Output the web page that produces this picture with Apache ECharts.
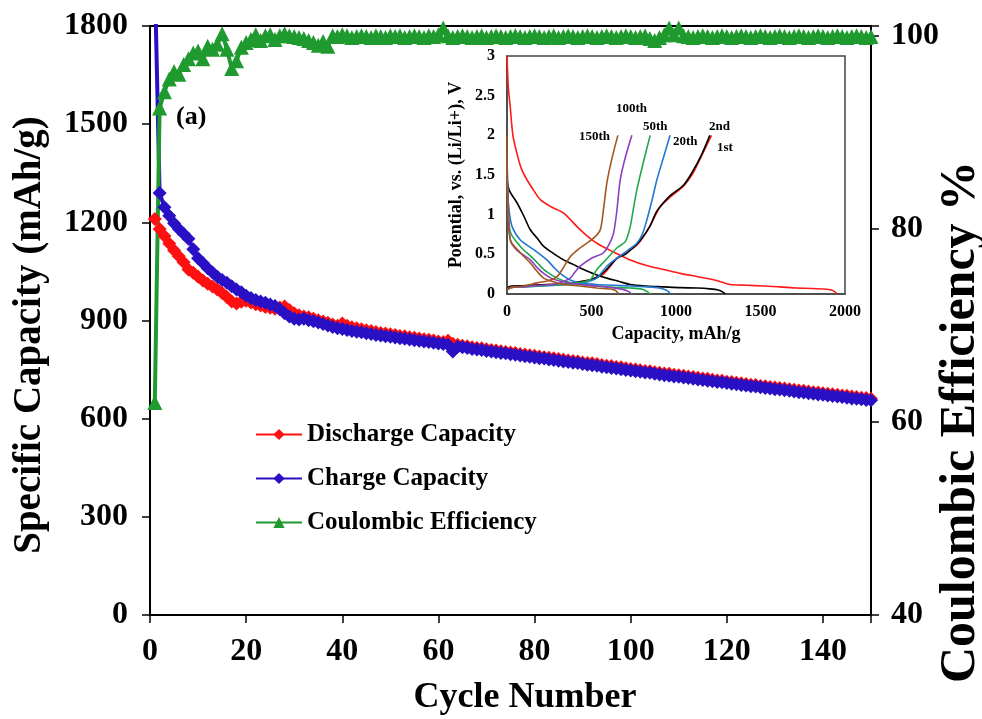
<!DOCTYPE html>
<html lang="en">
<head>
    <meta charset="UTF-8">
    <title>Cycling performance</title>
    <style>
        * { margin: 0; padding: 0; box-sizing: border-box; }
        body { background: #fff; }
        #chart { width: 982px; height: 719px; }
    </style>
</head>
<body>
    <div id="chart"></div>

    <script src="https://cdn.jsdelivr.net/npm/echarts@6/dist/echarts.min.js"></script>
    <script>
        // main plot: capacity (mAh/g) and coulombic efficiency (%) per cycle, cycles 1..150
        const dischargeCap = [
            1210, 1180, 1158, 1135, 1115, 1096, 1078, 1056, 1046, 1034,
            1022, 1012, 1004, 995, 984, 972, 958, 952, 957, 960,
            955, 950, 946, 941, 939, 936, 940, 943, 932, 922,
            916, 912, 910, 905, 901, 897, 893, 888, 884, 891,
            884, 879, 876, 873, 870, 868, 865, 862, 860, 858,
            856, 853, 852, 849, 847, 845, 843, 841, 839, 836,
            834, 838, 829, 826, 823, 821, 818, 816, 815, 812,
            810, 808, 806, 804, 802, 801, 798, 796, 794, 792,
            790, 788, 786, 785, 782, 780, 778, 776, 775, 772,
            770, 769, 767, 764, 762, 761, 758, 757, 754, 752,
            750, 748, 746, 745, 742, 740, 738, 737, 734, 733,
            731, 729, 727, 725, 723, 722, 719, 717, 716, 713,
            712, 710, 708, 706, 704, 703, 700, 699, 697, 695,
            694, 692, 690, 688, 686, 685, 683, 681, 680, 678,
            676, 675, 673, 671, 670, 668, 666, 664, 663, 661
        ];
        const chargeCap = [
            1950, 1290, 1246, 1220, 1197, 1180, 1165, 1150, 1118, 1090,
            1076, 1060, 1047, 1034, 1024, 1015, 1005, 995, 986, 976,
            969, 963, 958, 954, 949, 944, 934, 922, 912, 905,
            903, 905, 901, 898, 894, 889, 885, 880, 876, 874,
            871, 868, 866, 864, 861, 859, 856, 854, 852, 850,
            848, 846, 844, 842, 840, 838, 836, 834, 832, 830,
            828, 826, 805, 820, 818, 816, 813, 811, 810, 807,
            805, 803, 801, 800, 797, 795, 793, 791, 789, 787,
            785, 784, 781, 779, 777, 775, 773, 771, 770, 767,
            765, 763, 762, 759, 757, 755, 753, 751, 749, 747,
            745, 743, 741, 740, 737, 735, 733, 731, 729, 728,
            726, 724, 722, 720, 718, 716, 714, 712, 711, 709,
            707, 705, 703, 701, 699, 698, 696, 694, 692, 690,
            689, 687, 685, 683, 681, 680, 678, 676, 674, 673,
            671, 669, 668, 666, 664, 662, 661, 659, 657, 656
        ];
        const coulombicEff = [
            62.0, 92.5, 94.2, 95.5, 96.3, 96.0, 97.0, 97.6, 98.2, 98.4,
            97.6, 98.9, 98.6, 99.1, 100.2, 98.6, 96.6, 97.4, 98.8, 99.3,
            99.6, 100.1, 99.5, 100.0, 100.1, 99.6, 100.0, 100.2, 100.0, 99.9,
            99.8, 99.7, 99.5, 99.3, 99.0, 99.4, 98.9, 100.0, 99.9, 100.1,
            100.0, 99.8, 99.9, 100.0, 99.9, 99.8, 100.0, 99.9, 99.8, 100.0,
            99.9, 100.0, 99.8, 99.9, 100.0, 99.9, 99.8, 100.0, 99.9, 100.1,
            100.8, 100.0, 99.8, 99.9, 100.0, 99.9, 99.8, 99.9, 100.0, 99.8,
            99.9, 100.0, 99.9, 99.8, 99.9, 100.0, 99.9, 99.8, 99.9, 100.0,
            99.9, 99.8, 99.9, 100.0, 99.8, 99.9, 100.0, 99.9, 99.8, 99.9,
            100.0, 99.9, 99.8, 99.9, 100.0, 99.9, 99.8, 99.9, 100.0, 99.9,
            99.8, 99.9, 100.0, 99.7, 99.5, 99.8, 100.1, 100.8, 100.1, 100.8,
            100.0, 99.9, 99.8, 99.9, 100.0, 99.9, 99.8, 99.9, 100.0, 99.9,
            99.8, 99.9, 100.0, 99.9, 99.8, 99.9, 100.0, 99.9, 99.8, 99.9,
            100.0, 99.9, 99.8, 99.9, 100.0, 99.9, 99.8, 99.9, 100.0, 99.9,
            99.8, 99.9, 100.0, 99.9, 99.8, 99.9, 100.0, 99.9, 99.8, 99.9
        ];

        // inset: [capacity mAh/g, potential V]
        const dis1st = [[0,3.0],[8,2.6],[19,2.36],[35,2.0],[59,1.77],[85,1.58],[118,1.44],[160,1.3],[197,1.19],[260,1.1],[335,1.02],[414,0.85],[470,0.74],[532,0.64],[630,0.53],[729,0.43],[826,0.36],[926,0.31],[1025,0.26],[1123,0.22],[1221,0.18],[1270,0.15],[1320,0.12],[1420,0.11],[1517,0.1],[1614,0.09],[1714,0.075],[1800,0.07],[1872,0.063],[1920,0.05],[1945,0.02],[1950,0]];
        const chg1st = [[0,0.05],[20,0.09],[60,0.1],[150,0.11],[250,0.12],[350,0.13],[450,0.16],[520,0.2],[571,0.25],[611,0.35],[650,0.45],[700,0.52],[760,0.6],[800,0.7],[847,0.86],[880,1.0],[906,1.1],[965,1.22],[1044,1.36],[1100,1.52],[1160,1.78],[1210,2.0]];
        const dis2nd = [[0,1.44],[15,1.3],[59,1.15],[100,0.98],[138,0.81],[180,0.7],[217,0.6],[276,0.51],[335,0.43],[394,0.37],[453,0.31],[520,0.25],[591,0.2],[660,0.16],[729,0.12],[826,0.1],[926,0.09],[1025,0.08],[1123,0.075],[1200,0.065],[1250,0.05],[1280,0.02],[1290,0]];
        const chg2nd = [[0,0.05],[10,0.09],[40,0.1],[150,0.11],[250,0.12],[340,0.12],[420,0.15],[493,0.18],[540,0.22],[575,0.28],[611,0.36],[650,0.45],[700,0.5],[740,0.57],[790,0.68],[847,0.86],[880,1.02],[906,1.1],[965,1.24],[1044,1.37],[1100,1.55],[1150,1.75],[1200,2.0]];
        const dis20th = [[0,1.45],[10,1.1],[30,0.85],[79,0.68],[158,0.56],[236,0.43],[280,0.33],[315,0.26],[370,0.18],[433,0.14],[530,0.12],[630,0.11],[729,0.1],[826,0.09],[900,0.075],[940,0.05],[960,0.02],[965,0]];
        const chg20th = [[0,0.05],[20,0.08],[60,0.09],[200,0.1],[350,0.12],[450,0.14],[500,0.17],[532,0.2],[560,0.27],[591,0.35],[630,0.42],[670,0.48],[720,0.56],[768,0.64],[800,0.75],[827,0.93],[860,1.2],[887,1.44],[930,1.75],[965,2.0]];
        const dis50th = [[0,1.75],[8,1.1],[20,0.78],[79,0.6],[138,0.48],[177,0.4],[217,0.31],[256,0.25],[296,0.2],[360,0.15],[433,0.12],[530,0.1],[630,0.085],[729,0.075],[800,0.06],[830,0.03],[847,0]];
        const chg50th = [[0,0.05],[20,0.08],[100,0.09],[250,0.11],[380,0.13],[450,0.15],[493,0.18],[515,0.25],[532,0.31],[580,0.42],[650,0.58],[700,0.66],[729,0.85],[750,1.1],[768,1.31],[800,1.6],[847,2.0]];
        const dis100th = [[0,1.75],[6,1.2],[20,0.68],[60,0.55],[138,0.43],[180,0.33],[217,0.26],[260,0.2],[300,0.17],[400,0.13],[532,0.1],[620,0.08],[690,0.055],[720,0.03],[739,0]];
        const chg100th = [[0,0.05],[20,0.08],[100,0.09],[200,0.11],[300,0.13],[374,0.2],[400,0.27],[433,0.35],[500,0.45],[571,0.52],[610,0.65],[631,0.77],[650,1.05],[670,1.44],[700,1.72],[739,2.0]];
        const dis150th = [[0,2.0],[4,1.2],[20,0.68],[79,0.52],[138,0.39],[180,0.28],[217,0.2],[280,0.15],[335,0.12],[430,0.1],[532,0.075],[631,0.055],[650,0.03],[660,0]];
        const chg150th = [[0,0.05],[20,0.08],[100,0.1],[177,0.14],[250,0.17],[296,0.22],[330,0.32],[374,0.47],[420,0.56],[473,0.64],[520,0.72],[552,0.81],[570,1.05],[591,1.4],[620,1.7],[656,2.0]];

        const FONT = "'Liberation Serif', 'Times New Roman', serif";
        const withCycle = arr => arr.map((v, i) => [i + 1, v]);
        const plain = v => String(v);
        const every20 = v => (v % 20 === 0 ? String(v) : '');

        const insetCurves = [
            { color: '#ff1a1a', data: [dis1st, chg1st] },
            { color: '#000000', data: [dis2nd, chg2nd] },
            { color: '#1f78d1', data: [dis20th, chg20th] },
            { color: '#21a84a', data: [dis50th, chg50th] },
            { color: '#8b3fc2', data: [dis100th, chg100th] },
            { color: '#a3561f', data: [dis150th, chg150th] }
        ];
        const insetSeries = [];
        insetCurves.forEach(c => {
            c.data.forEach(d => {
                insetSeries.push({
                    type: 'line', xAxisIndex: 1, yAxisIndex: 2,
                    data: d, showSymbol: false, smooth: 0.3, silent: true,
                    lineStyle: { color: c.color, width: 1.6 }, z: 5
                });
            });
        });

        const bold = size => ({ fontFamily: FONT, fontWeight: 'bold', fontSize: size, color: '#000' });
        const blackLine = { lineStyle: { color: '#000', width: 2 } };
        const outTick = { length: 8, lineStyle: { color: '#000', width: 1.5 } };
        const cycleLabel = (text, left, top) => ({
            type: 'text', left: left, top: top,
            style: { text: text, font: "bold 13px 'Liberation Serif', serif", fill: '#000' }
        });
        const title = (text, x, y, size, rot) => ({
            type: 'text', x: x, y: y, rotation: rot,
            style: { text: text, font: 'bold ' + size + "px 'Liberation Serif', serif",
                     fill: '#000', align: 'center', verticalAlign: 'middle' }
        });

        const chart = echarts.init(document.getElementById('chart'));
        chart.setOption({
            animation: false,
            grid: [
                { left: 150, right: 111, top: 26, bottom: 104, outerBoundsMode: 'none',
                  show: true, borderColor: '#000', borderWidth: 2 },
                { left: 507, top: 56, width: 338, height: 238, outerBoundsMode: 'none',
                  show: true, borderColor: '#444', borderWidth: 1.5, backgroundColor: '#fff' }
            ],
            legend: {
                data: ['Discharge Capacity', 'Charge Capacity', 'Coulombic Efficiency'],
                orient: 'vertical', left: 250, top: 417,
                itemWidth: 46, itemHeight: 14, itemGap: 19,
                textStyle: bold(25)
            },
            xAxis: [
                {
                    gridIndex: 0, type: 'value', min: 0, max: 150, interval: 20,
                    axisLine: blackLine, axisTick: outTick,
                    axisLabel: Object.assign(bold(32), { margin: 21, formatter: every20 }),
                    splitLine: { show: false }
                },
                {
                    gridIndex: 1, type: 'value', min: 0, max: 2000, interval: 500,
                    axisLine: { lineStyle: { color: '#444', width: 1.5 } },
                    axisTick: { show: false },
                    axisLabel: Object.assign(bold(16), { margin: 10, formatter: plain }),
                    splitLine: { show: false },
                    name: 'Capacity, mAh/g', nameLocation: 'middle', nameGap: 31,
                    nameTextStyle: bold(18)
                }
            ],
            yAxis: [
                {
                    gridIndex: 0, type: 'value', min: 0, max: 1800, interval: 300,
                    axisLine: blackLine, axisTick: outTick,
                    axisLabel: Object.assign(bold(32), { margin: 22, formatter: plain }),
                    splitLine: { show: false }
                },
                {
                    gridIndex: 0, type: 'value', position: 'right', min: 40, max: 101, interval: 20,
                    axisLine: blackLine, axisTick: outTick,
                    axisLabel: Object.assign(bold(32), { margin: 20, formatter: every20 }),
                    splitLine: { show: false }
                },
                {
                    gridIndex: 1, type: 'value', min: 0, max: 3, interval: 0.5,
                    axisLine: { lineStyle: { color: '#444', width: 1.5 } },
                    axisTick: { show: false },
                    axisLabel: Object.assign(bold(16), { margin: 12, formatter: plain }),
                    splitLine: { show: false },
                    name: 'Potential, vs. (Li/Li+), V', nameLocation: 'middle', nameGap: 42,
                    nameTextStyle: bold(18)
                }
            ],
            series: [
                {
                    name: 'Discharge Capacity', type: 'line', xAxisIndex: 0, yAxisIndex: 0,
                    data: withCycle(dischargeCap), symbol: 'diamond', symbolSize: 14,
                    itemStyle: { color: '#ff1010' }, lineStyle: { color: '#ff1010', width: 4 }
                },
                {
                    name: 'Charge Capacity', type: 'line', xAxisIndex: 0, yAxisIndex: 0,
                    data: withCycle(chargeCap), symbol: 'diamond', symbolSize: 14,
                    itemStyle: { color: '#2a10c4' }, lineStyle: { color: '#2a10c4', width: 4 }
                },
                {
                    name: 'Coulombic Efficiency', type: 'line', xAxisIndex: 0, yAxisIndex: 1,
                    data: withCycle(coulombicEff), symbol: 'triangle', symbolSize: 15,
                    itemStyle: { color: '#1f9a2f' }, lineStyle: { color: '#1f9a2f', width: 4 }
                }
            ].concat(insetSeries),
            graphic: [
                // axis titles placed by hand (the reference has them off-centre)
                title('Specific Capacity (mAh/g)', 30, 335, 39, Math.PI / 2),
                title('Coulombic Efficiency %', 961, 422, 50, Math.PI / 2),
                title('Cycle Number', 525, 698, 36, 0),
                { type: 'text', left: 176, top: 104,
                  style: { text: '(a)', font: "bold 26px 'Liberation Serif', serif", fill: '#000' } },
                cycleLabel('150th', 579, 130),
                cycleLabel('100th', 616, 102),
                cycleLabel('50th', 643, 120),
                cycleLabel('20th', 673, 135),
                cycleLabel('2nd', 709, 120),
                cycleLabel('1st', 717, 141)
            ]
        });
    </script>
</body>
</html>
